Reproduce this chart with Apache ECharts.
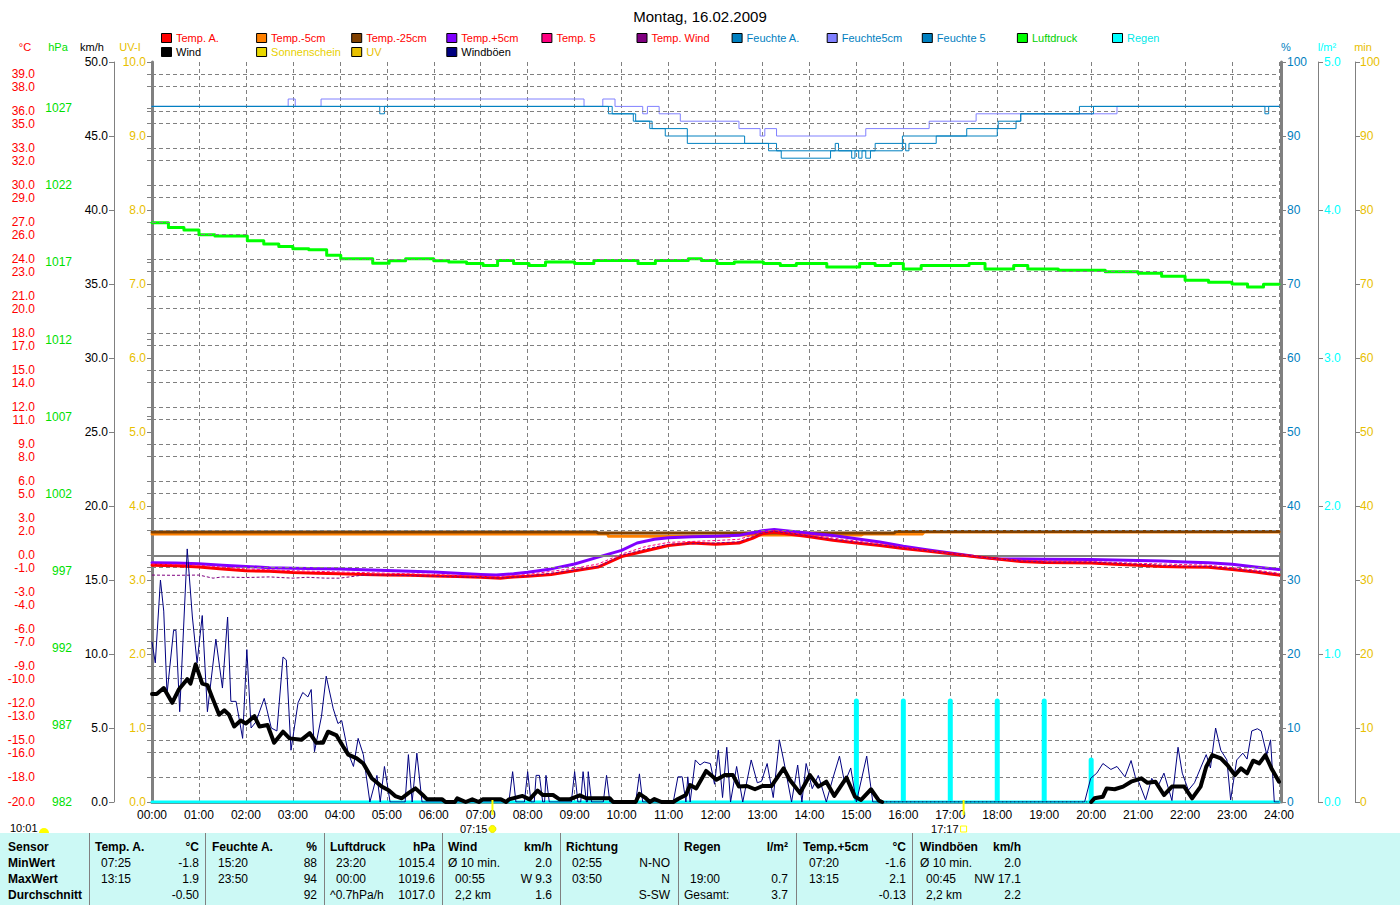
<!DOCTYPE html>
<html><head><meta charset="utf-8">
<script src="https://cdn.jsdelivr.net/npm/echarts@6/dist/echarts.min.js"></script>
<style>html,body{margin:0;padding:0;background:#fff}#c{width:1400px;height:905px}</style>
</head><body><div id="c"></div>
<script>
// ---------------- DATA ----------------
const title = 'Montag, 16.02.2009';
const tempTickLabels = [39,38,36,35,33,32,30,29,27,26,24,23,21,20,18,17,15,14,12,11,9,8,6,5,3,2,0,-1,-3,-4,-6,-7,-9,-10,-12,-13,-15,-16,-18,-20];
const hpaTickLabels = [982,987,992,997,1002,1007,1012,1017,1022,1027];

const tempA = [[0,-0.8],[0.5,-0.85],[1,-0.95],[1.5,-1.1],[2,-1.25],[2.5,-1.3],[3,-1.4],[3.5,-1.45],[4,-1.5],[4.5,-1.55],[5,-1.6],[5.5,-1.62],[6,-1.68],[6.5,-1.72],[7,-1.78],[7.42,-1.85],[7.7,-1.75],[8,-1.7],[8.5,-1.55],[9,-1.25],[9.5,-0.95],[10,-0.1],[10.5,0.35],[11,0.8],[11.5,1.0],[12,0.9],[12.5,1.0],[12.8,1.4],[13,1.75],[13.25,1.9],[13.5,1.75],[14,1.5],[14.5,1.22],[15,1.0],[15.5,0.8],[16,0.55],[16.5,0.35],[17,0.12],[17.5,-0.1],[18,-0.3],[18.5,-0.5],[19,-0.58],[20,-0.62],[20.5,-0.72],[21,-0.8],[21.5,-0.9],[22,-0.95],[22.5,-0.97],[23,-1.15],[23.5,-1.35],[24,-1.6]];
const tempP5 = [[0,-0.6],[0.5,-0.62],[1,-0.68],[1.5,-0.8],[2,-0.9],[2.5,-1.0],[3,-1.05],[4,-1.1],[5,-1.22],[6,-1.35],[6.5,-1.45],[7,-1.55],[7.33,-1.6],[7.7,-1.5],[8,-1.38],[8.5,-1.1],[9,-0.7],[9.5,-0.15],[10,0.4],[10.33,1.0],[10.7,1.3],[11,1.43],[11.5,1.5],[12,1.55],[12.5,1.62],[13,2.0],[13.25,2.1],[13.5,2.0],[14,1.8],[14.5,1.6],[15,1.35],[15.5,1.08],[16,0.73],[16.5,0.46],[17,0.19],[17.5,-0.08],[18,-0.27],[18.5,-0.3],[19,-0.32],[20,-0.33],[21,-0.41],[21.5,-0.45],[22,-0.54],[22.5,-0.6],[23,-0.73],[23.5,-0.95],[24,-1.15]];
const temp5 = [[0,-0.7],[1,-0.8],[2,-1.1],[3,-1.25],[4,-1.35],[5,-1.45],[6,-1.55],[7,-1.7],[7.4,-1.72],[8,-1.55],[9,-1.05],[9.5,-0.7],[10,0.1],[10.5,0.7],[11,1.05],[12,1.2],[12.5,1.3],[13,1.9],[13.25,2.0],[13.5,1.9],[14,1.65],[14.5,1.4],[15,1.15],[15.5,0.95],[16,0.65],[16.5,0.4],[17,0.15],[17.5,-0.05],[18,-0.3],[18.5,-0.4],[19,-0.45],[20,-0.5],[21,-0.65],[22,-0.75],[22.5,-0.8],[23,-1.0],[23.5,-1.2],[24,-1.45]];
const tempWind = [[0,-1.6],[0.5,-1.62],[1,-1.6],[1.3,-1.85],[1.5,-1.75],[2,-1.8],[2.5,-1.75],[3,-1.85],[3.3,-1.78],[3.7,-1.85],[4,-1.85],[4.5,-1.6],[5,-1.6],[6,-1.7],[7,-1.8],[7.4,-1.85],[8,-1.7],[9,-1.2],[9.5,-0.9],[10,0.0],[10.5,0.5],[11,0.9],[12,1.0],[12.5,1.1],[13,1.8],[13.25,1.95],[13.5,1.8],[14,1.55],[14.5,1.3],[15,1.05],[15.5,0.85],[16,0.6],[16.5,0.38],[17,0.15],[17.5,-0.05],[18,-0.28],[18.5,-0.45],[19,-0.55],[20,-0.55],[21,-0.72],[22,-0.88],[22.5,-0.9],[23,-1.1],[23.5,-1.3],[24,-1.55]];
const tempM5 = [[0,1.72],[9.7,1.72],[9.72,1.55],[12.3,1.55],[12.35,1.65],[15.1,1.65],[15.15,1.72],[16.4,1.72],[16.45,1.9],[24,1.9]];
const tempM25 = [[0,1.9],[9.46,1.9],[9.5,1.82],[15.8,1.82],[15.85,1.93],[24,1.93]];

const feuchteA = [[0,94],[4.85,93],[4.95,94],[9.72,93],[10.25,92],[10.65,91],[10.93,90],[12.62,89],[13.3,88],[15.4,89],[15.98,90],[17.35,91],[18.02,92],[18.5,93],[19.75,94],[24,94]];
const feuchte5cm = [[0,94],[2.9,95],[3.05,94],[3.6,95],[9.2,94],[9.6,95],[9.86,94],[10.45,93],[10.55,94],[10.8,93],[11.25,92],[12.5,91],[12.95,90],[13.05,91],[13.3,90],[15.2,91],[16.55,92],[17.55,93],[20.55,94],[24,94]];
const feuchte5 = [[0,94],[9.8,93],[10.3,92],[10.6,91],[11.4,89],[13.13,88],[13.4,87],[14.45,88],[14.55,89],[14.62,88],[14.9,87],[14.97,88],[15.05,87],[15.12,88],[15.2,87],[15.3,88],[15.98,89],[16.05,88],[16.12,89],[16.7,90],[18.0,91],[18.4,92],[18.5,93],[20.05,94],[23.7,93],[23.78,94],[24,94]];

const luftdruck = [[0,1019.57],[0.35,1019.26],[0.68,1019.11],[1.0,1018.79],[1.34,1018.72],[2.03,1018.4],[2.38,1018.2],[2.7,1018.04],[3.0,1017.89],[3.34,1017.82],[3.72,1017.46],[4.02,1017.24],[4.7,1016.94],[5.05,1017.11],[5.4,1017.24],[6.0,1017.11],[6.32,1017.03],[6.7,1016.93],[7.05,1016.8],[7.36,1017.12],[7.7,1016.93],[8.03,1016.8],[8.38,1017.03],[9.0,1016.93],[9.41,1017.13],[10.35,1016.93],[10.72,1017.13],[11.42,1017.24],[11.7,1017.13],[12.03,1016.93],[12.4,1017.03],[13.02,1016.93],[13.38,1016.8],[13.72,1016.93],[14.37,1016.71],[15.07,1016.93],[15.4,1016.8],[15.73,1016.93],[16.0,1016.58],[16.38,1016.8],[17.4,1016.93],[17.74,1016.58],[18.35,1016.8],[18.65,1016.58],[19.3,1016.5],[20.3,1016.4],[21.0,1016.3],[21.5,1016.1],[22.0,1015.85],[22.5,1015.72],[23.0,1015.6],[23.33,1015.4],[23.67,1015.58],[24,1015.58]];

const wind = [[0,7.3],[0.1,7.3],[0.25,7.7],[0.43,6.7],[0.57,7.6],[0.75,8.3],[0.82,8.0],[0.93,9.3],[1.07,8.0],[1.18,7.9],[1.29,7.0],[1.43,5.9],[1.54,6.2],[1.64,5.9],[1.75,5.1],[1.89,5.5],[2.0,5.3],[2.18,5.8],[2.29,5.1],[2.46,5.2],[2.6,4.0],[2.79,4.75],[2.93,4.3],[3.18,4.2],[3.36,4.65],[3.5,4.0],[3.64,4.0],[3.75,4.75],[3.93,4.5],[4.07,3.75],[4.18,3.2],[4.36,2.95],[4.5,2.6],[4.68,1.6],[4.89,1.05],[5.04,0.8],[5.18,0.4],[5.32,0.25],[5.46,0.6],[5.61,0.92],[5.79,0.4],[5.86,0.18],[6.18,0.18],[6.25,0],[6.45,0],[6.5,0.25],[6.68,0],[6.82,0.18],[6.96,0],[7.04,0.18],[7.43,0.18],[7.54,0],[7.6,0.18],[7.89,0.41],[8.04,0.18],[8.21,0.77],[8.32,0.47],[8.54,0.47],[8.68,0.18],[8.89,0.18],[9.11,0.45],[9.25,0.25],[9.75,0.25],[9.82,0],[10.3,0],[10.38,0.55],[10.5,0.3],[10.6,0],[10.7,0.2],[10.85,0],[11.1,0],[11.2,0.2],[11.37,0.47],[11.46,1.15],[11.59,0.92],[11.8,2.1],[12.02,1.5],[12.2,1.82],[12.37,1.82],[12.5,1.04],[12.67,1.08],[12.84,0.86],[13.0,1.08],[13.19,1.08],[13.45,2.27],[13.58,1.5],[13.8,0.6],[14.01,1.82],[14.19,1.04],[14.36,1.37],[14.53,0.41],[14.79,1.64],[14.97,0.36],[15.1,0.14],[15.31,0.86],[15.48,0.09],[15.55,0],[15.6,'-'],[20.0,0],[20.07,0.25],[20.25,0.36],[20.33,0.92],[20.5,0.86],[20.68,1.04],[20.85,1.37],[21.07,1.6],[21.2,1.3],[21.37,1.37],[21.55,0.47],[21.72,1.04],[21.98,1.04],[22.15,0.25],[22.33,1.04],[22.45,2.38],[22.58,3.17],[22.76,2.95],[22.9,2.5],[23.06,1.82],[23.19,2.27],[23.32,1.94],[23.45,2.79],[23.58,2.61],[23.71,3.17],[23.84,2.27],[24,1.37]];
const windGap = [[15.55,0],[20.0,0]];

const gusts = [[0,10.8],[0.07,9.4],[0.18,15.0],[0.25,12.9],[0.32,7.3],[0.46,11.6],[0.51,11.6],[0.59,6.1],[0.75,17.1],[0.86,12.5],[0.96,9.4],[1.07,12.6],[1.18,6.1],[1.36,11.0],[1.5,7.7],[1.61,12.5],[1.68,6.8],[1.79,6.8],[1.93,4.3],[2.02,10.3],[2.11,5.0],[2.21,5.4],[2.39,7.0],[2.54,5.0],[2.66,4.8],[2.79,9.8],[2.86,9.6],[2.96,3.5],[3.11,6.7],[3.21,7.4],[3.32,7.1],[3.39,7.6],[3.46,3.4],[3.61,5.8],[3.71,8.5],[3.86,6.3],[3.96,5.3],[4.04,5.5],[4.18,3.3],[4.29,2.4],[4.39,4.3],[4.5,3.2],[4.64,0],[4.79,1.8],[4.86,0],[4.95,2.4],[5.07,0],[5.39,0],[5.46,3.2],[5.54,0],[5.64,3.3],[5.75,0],[7.6,0],[7.68,2.05],[7.75,0],[7.93,0],[8.0,2.05],[8.07,0],[8.14,0],[8.18,1.8],[8.25,1.8],[8.32,0],[8.36,0],[8.39,1.8],[8.46,0],[8.93,0],[9.0,2.05],[9.07,0],[9.13,0],[9.18,2.05],[9.25,0],[9.27,0],[9.29,2.05],[9.36,0],[9.61,0],[9.68,1.8],[9.75,0],[10.3,0],[10.38,1.9],[10.45,0],[11.1,0],[11.2,1.7],[11.29,1.7],[11.37,0],[11.41,1.7],[11.46,0],[11.57,2.84],[11.67,2.5],[11.76,2.7],[11.89,2.6],[11.98,1.2],[12.06,3.5],[12.15,0.3],[12.24,3.7],[12.32,0],[12.45,2.4],[12.58,0],[12.76,2.84],[12.89,1.3],[12.98,1.4],[13.1,2.6],[13.23,0.3],[13.36,4.2],[13.45,2.84],[13.62,0],[13.75,2.5],[13.84,0],[13.93,2.6],[14.06,0.9],[14.19,1.8],[14.36,0],[14.49,1.5],[14.64,3.1],[14.75,1.3],[14.88,2.3],[15.0,0],[15.22,3.1],[15.35,0],[19.86,0],[19.99,1.6],[20.12,1.95],[20.25,2.6],[20.42,2.2],[20.55,2.4],[20.72,1.7],[20.85,2.8],[20.94,1.7],[21.02,1.3],[21.16,0.14],[21.29,1.6],[21.42,1.04],[21.55,1.95],[21.72,0.1],[21.85,3.7],[21.94,1.95],[22.07,0.8],[22.2,1.3],[22.33,2.3],[22.45,3.2],[22.54,2.3],[22.65,5.0],[22.76,3.5],[22.89,2.84],[22.97,0.14],[23.1,2.84],[23.23,3.3],[23.32,2.9],[23.42,4.8],[23.54,4.95],[23.62,4.8],[23.74,3.2],[23.82,4.2],[23.9,0],[24,0]];

const regen = [[15,0.7],[16,0.7],[17,0.7],[18,0.7],[19,0.7],[20,0.3]];
const regenBase = [[0,0],[24,0]];

const sunrise = {h: 7.25, label: '07:15'};
const sunset = {h: 17 + 17/60, label: '17:17'};
const dayLength = '10:01';

const legendRow1 = [
  ['Temp. A.','#ff0000','#ff0000'],['Temp.-5cm','#ff8000','#ff0000'],['Temp.-25cm','#804000','#ff0000'],
  ['Temp.+5cm','#8000ff','#ff0000'],['Temp. 5','#ff0080','#ff0000'],['Temp. Wind','#800080','#ff0000'],
  ['Feuchte A.','#0080c0','#0080c0'],['Feuchte5cm','#8080ff','#0080c0'],['Feuchte 5','#0080c0','#0080c0'],
  ['Luftdruck','#00ff00','#00d000'],['Regen','#00ffff','#00e8e8']];
const legendRow2 = [['Wind','#000000','#000000'],['Sonnenschein','#e8d800','#e8d000'],['UV','#e8c000','#e8c000'],['Windböen','#000080','#000000']];

// table: [text, x, y, align, bold]
const tableText = [
 ['Sensor',8,847,'left',1],['MinWert',8,863,'left',1],['MaxWert',8,879,'left',1],['Durchschnitt',8,895,'left',1],
 ['Temp. A.',95,847,'left',1],['°C',199,847,'right',1],['07:25',101,863,'left',0],['-1.8',199,863,'right',0],['13:15',101,879,'left',0],['1.9',199,879,'right',0],['-0.50',199,895,'right',0],
 ['Feuchte A.',212,847,'left',1],['%',317,847,'right',1],['15:20',218,863,'left',0],['88',317,863,'right',0],['23:50',218,879,'left',0],['94',317,879,'right',0],['92',317,895,'right',0],
 ['Luftdruck',330,847,'left',1],['hPa',435,847,'right',1],['23:20',336,863,'left',0],['1015.4',435,863,'right',0],['00:00',336,879,'left',0],['1019.6',435,879,'right',0],['^0.7hPa/h',330,895,'left',0],['1017.0',435,895,'right',0],
 ['Wind',448,847,'left',1],['km/h',552,847,'right',1],['Ø 10 min.',448,863,'left',0],['2.0',552,863,'right',0],['00:55',455,879,'left',0],['W 9.3',552,879,'right',0],['2,2 km',455,895,'left',0],['1.6',552,895,'right',0],
 ['Richtung',566,847,'left',1],['02:55',572,863,'left',0],['N-NO',670,863,'right',0],['03:50',572,879,'left',0],['N',670,879,'right',0],['S-SW',670,895,'right',0],
 ['Regen',684,847,'left',1],['l/m²',788,847,'right',1],['19:00',690,879,'left',0],['0.7',788,879,'right',0],['Gesamt:',684,895,'left',0],['3.7',788,895,'right',0],
 ['Temp.+5cm',803,847,'left',1],['°C',906,847,'right',1],['07:20',809,863,'left',0],['-1.6',906,863,'right',0],['13:15',809,879,'left',0],['2.1',906,879,'right',0],['-0.13',906,895,'right',0],
 ['Windböen',920,847,'left',1],['km/h',1021,847,'right',1],['Ø 10 min.',920,863,'left',0],['2.0',1021,863,'right',0],['00:45',926,879,'left',0],['NW 17.1',1021,879,'right',0],['2,2 km',926,895,'left',0],['2.2',1021,895,'right',0]
];
const tableSeps = [89,205,324,442,560,678,796,912];

// ---------------- CHART ----------------
const FONT = "'Liberation Sans Narrow','Liberation Sans',Arial,sans-serif";
const GRAY = '#808080';
const chart = echarts.init(document.getElementById('c'), null, {renderer: 'svg'});

function yAx(o) {
  return Object.assign({
    type: 'value', splitLine: {show: false},
    axisLine: {show: true, lineStyle: {color: GRAY, width: 1}},
    axisTick: {show: true, inside: false, length: 5, lineStyle: {color: GRAY}},
    axisLabel: {fontFamily: FONT, fontSize: 12, margin: 6}
  }, o);
}
const fmt1 = v => v.toFixed(1);

function line(name, data, color, width, yIdx, extra) {
  return Object.assign({
    name, type: 'line', data, yAxisIndex: yIdx, showSymbol: false, symbol: 'none',
    lineStyle: {color, width, cap: 'round', join: 'round'}, itemStyle: {color},
    animation: false, silent: true, connectNulls: false
  }, extra || {});
}

const gridMarks = tempTickLabels.filter(v => v !== 0 && v !== -20).map(v => ({yAxis: v}));
gridMarks.push({yAxis: 0, lineStyle: {type: 'solid', width: 2, color: GRAY}});

const option = {
  animation: false,
  textStyle: {fontFamily: FONT},
  title: {text: title, left: 'center', top: 4, textStyle: {fontFamily: "'Liberation Sans',Arial,sans-serif", fontSize: 15, fontWeight: 'normal', color: '#000'}},
  grid: {left: 152, right: 121, top: 62, bottom: 103, show: false},
  xAxis: [{
    type: 'value', min: 0, max: 24, interval: 1,
    axisLine: {show: true, lineStyle: {color: GRAY, width: 1}},
    axisTick: {show: true, length: 4, lineStyle: {color: GRAY}},
    axisLabel: {fontSize: 12, color: '#000', margin: 7, fontFamily: FONT,
      formatter: v => (v < 10 ? '0' : '') + v + ':00'},
    splitLine: {show: true, lineStyle: {color: GRAY, type: [4, 3], width: 1}}
  }, {
    type: 'value', min: 0, max: 24, position: 'top',
    axisLine: {show: true, lineStyle: {color: GRAY, width: 3}},
    axisTick: {show: false}, axisLabel: {show: false}, splitLine: {show: false}
  }],
  yAxis: [
    // 0 °C
    yAx({position: 'left', offset: 111, min: -20, max: 40,
      axisLabel: {fontFamily: FONT, fontSize: 12, margin: 6, color: '#ff0000', formatter: fmt1, customValues: tempTickLabels},
      axisTick: {show: true, length: 5, lineStyle: {color: GRAY}, customValues: tempTickLabels}}),
    // 1 hPa
    yAx({position: 'left', offset: 75, min: 982, max: 1030,
      axisLabel: {fontFamily: FONT, fontSize: 12, margin: 5, color: '#00e000', formatter: v => String(Math.round(v)), customValues: hpaTickLabels},
      axisTick: {show: true, length: 5, lineStyle: {color: GRAY}, customValues: hpaTickLabels}}),
    // 2 km/h
    yAx({position: 'left', offset: 38, min: 0, max: 50, interval: 5,
      axisLabel: {fontFamily: FONT, fontSize: 12, margin: 6, color: '#000', formatter: fmt1}}),
    // 3 UV-I
    yAx({position: 'left', offset: 0, min: 0, max: 10, interval: 1,
      axisLine: {show: true, lineStyle: {color: GRAY, width: 3}},
      axisLabel: {fontFamily: FONT, fontSize: 12, margin: 6, color: '#e8c000', formatter: fmt1}}),
    // 4 %
    yAx({position: 'right', offset: 2, min: 0, max: 100, interval: 10,
      axisLine: {show: true, lineStyle: {color: GRAY, width: 3}},
      axisLabel: {fontFamily: FONT, fontSize: 12, margin: 6, color: '#0080c0'}}),
    // 5 l/m²
    yAx({position: 'right', offset: 39, min: 0, max: 5, interval: 1,
      axisLabel: {fontFamily: FONT, fontSize: 12, margin: 6, color: '#00ffff', formatter: fmt1}}),
    // 6 min
    yAx({position: 'right', offset: 76, min: 0, max: 100, interval: 10,
      axisLabel: {fontFamily: FONT, fontSize: 12, margin: 5, color: '#e8c000'}})
  ],
  series: [
    {name: 'grid', type: 'line', yAxisIndex: 0, data: [], z: 1, silent: true,
      markLine: {silent: true, symbol: 'none', animation: false, label: {show: false},
        lineStyle: {color: GRAY, type: [4, 3], width: 1}, data: gridMarks}},
    line('Feuchte5cm', feuchte5cm, '#8080ff', 1, 4, {step: 'end', z: 2}),
    line('Feuchte 5', feuchte5, '#0080c0', 1, 4, {step: 'end', z: 2}),
    line('Feuchte A.', feuchteA, '#0080c0', 1, 4, {step: 'end', z: 2}),
    line('Luftdruck', luftdruck, '#00ff00', 3, 1, {step: 'end', z: 3}),
    line('Temp.-5cm', tempM5, '#ff8000', 3, 0, {z: 3}),
    line('Temp.-25cm', tempM25, '#804000', 3, 0, {z: 3}),
    line('Temp.+5cm', tempP5, '#8000ff', 3, 0, {z: 4}),
    line('Temp. A.', tempA, '#ff0000', 3, 0, {z: 5}),
    line('Temp. 5', temp5, '#ff0080', 1, 0, {z: 6, lineStyle: {color: '#ff0080', width: 1, type: [3, 2]}}),
    line('Temp. Wind', tempWind, '#800080', 1, 0, {z: 6, lineStyle: {color: '#800080', width: 1, type: [3, 2]}}),
    line('Regen0', regenBase, '#00ffff', 3, 5, {z: 6}),
    {name: 'Regen', type: 'bar', yAxisIndex: 5, data: regen, barWidth: 5, z: 6, silent: true, animation: false,
      itemStyle: {color: '#00ffff', borderRadius: [3, 3, 0, 0]}},
    line('Windböen', gusts, '#000080', 1, 2, {z: 7}),
    line('Wind', wind, '#000000', 4, 2, {z: 8}),
    line('WindGap', windGap, '#000000', 1, 2, {z: 8, lineStyle: {color: '#000', width: 1, type: [1, 3]}})
  ]
};
chart.setOption(option);

// ---------- graphics (legend, units, sun markers, table) ----------
const g = [];
function txt(text, x, y, color, align, size, bold) {
  g.push({type: 'text', silent: true, z: 100, style: {text, x, y, fill: color, align: align || 'left', verticalAlign: 'middle',
    font: (bold ? 'bold ' : '') + (size || 12) + 'px ' + FONT}});
}
// legend
function legendRow(items, y) {
  items.forEach((it, i) => {
    const x = 161 + i * 95.1;
    g.push({type: 'rect', silent: true, z: 100, shape: {x: x + 0.5, y: y - 4.5, width: 10, height: 9},
      style: {fill: it[1], stroke: '#000', lineWidth: 1}});
    txt(it[0], x + 15, y, it[2], 'left', 11);
  });
}
legendRow(legendRow1, 38);
legendRow(legendRow2, 52);
// axis units
txt('°C', 25, 47, '#ff0000', 'center', 11);
txt('hPa', 58, 47, '#00e000', 'center', 11);
txt('km/h', 92, 47, '#000', 'center', 11);
txt('UV-I', 130, 47, '#e8c000', 'center', 11);
txt('%', 1286, 47, '#0080c0', 'center', 11);
txt('l/m²', 1327, 47, '#00ffff', 'center', 11);
txt('min', 1363, 47, '#e8c000', 'center', 11);

// sun markers via the axis scale
const yBottom = chart.convertToPixel({yAxisIndex: 2}, 0);
[sunrise, sunset].forEach((s, i) => {
  const px = chart.convertToPixel({xAxisIndex: 0}, s.h);
  g.push({type: 'line', silent: true, z: 100, shape: {x1: px, y1: yBottom - 2, x2: px, y2: yBottom + 13}, style: {stroke: '#ffff00', lineWidth: 2}});
  txt(s.label, px - 5, yBottom + 27, '#000', 'right', 11);
  if (i === 0) {
    g.push({type: 'circle', silent: true, z: 100, shape: {cx: px, cy: yBottom + 27, r: 3.5}, style: {fill: '#ffff00', stroke: '#e8e800', lineWidth: 1}});
  } else {
    g.push({type: 'rect', silent: true, z: 100, shape: {x: px - 3, y: yBottom + 24, width: 6, height: 6}, style: {fill: '#fff', stroke: '#ffff00', lineWidth: 1}});
  }
});
txt(dayLength, 10, yBottom + 26, '#000', 'left', 11);
g.push({type: 'sector', silent: true, z: 100, shape: {cx: 44, cy: yBottom + 31, r0: 0, r: 5, startAngle: Math.PI, endAngle: 2 * Math.PI}, style: {fill: '#ffff00'}});

// table
g.push({type: 'rect', silent: true, z: 90, shape: {x: 0, y: 833, width: 1400, height: 72}, style: {fill: '#ccf9f5'}});
tableSeps.forEach(x => g.push({type: 'line', silent: true, z: 95, shape: {x1: x + 0.5, y1: 833, x2: x + 0.5, y2: 905}, style: {stroke: GRAY, lineWidth: 1}}));
tableText.forEach(t => txt(t[0], t[1], t[2], '#000', t[3], 12, t[4]));

chart.setOption({graphic: g});
</script>
</body></html>
